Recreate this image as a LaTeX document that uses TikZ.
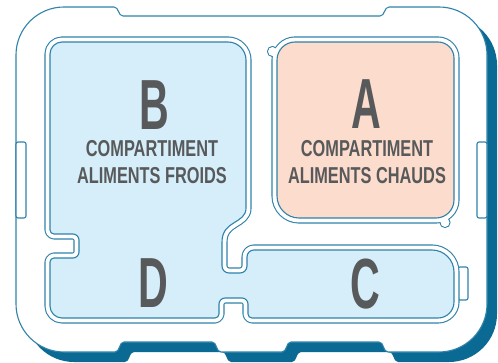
\documentclass[tikz,border=0pt]{standalone}
\usepackage{fontspec}
\newfontfamily\smallcond[FakeStretch=0.71]{Liberation Sans}
\newfontfamily\bigcond[FakeStretch=0.58]{Liberation Sans}
\definecolor{linec}{HTML}{2F82AA}
\definecolor{shadowc}{HTML}{0B6A93}
\definecolor{bluefill}{HTML}{D5EEFA}
\definecolor{pinkfill}{HTML}{FCDCCC}
\definecolor{textc}{HTML}{58595B}
\def\traypath{(16,55) .. controls (16,28.5) and (37.5,7) .. (64,7)
 -- (114,7) .. controls (119,7) and (118,16) .. (123,16)
 -- (380,16) .. controls (385,16) and (384,7) .. (389,7)
 -- (439,7) .. controls (465.5,7) and (487,28.5) .. (487,55)
 -- (487,304) .. controls (487,330.5) and (465.5,352) .. (439,352)
 -- (388,352) .. controls (383,352) and (384,342) .. (379,342)
 -- (291,342) .. controls (286,342) and (287,352) .. (282,352)
 -- (221,352) .. controls (216,352) and (217,342) .. (212,342)
 -- (124,342) .. controls (119,342) and (120,352) .. (115,352)
 -- (64,352) .. controls (37.5,352) and (16,330.5) .. (16,304)
 -- cycle}
\def\bluepath{(50,54) .. controls (50,47.4) and (55.4,42) .. (62,42)
 -- (228,42) .. controls (237.9,42) and (246,50.1) .. (246,60)
 -- (246,208) .. controls (246,224) and (222,220) .. (222,242)
 -- (222,266) .. controls (222,269.9) and (225.1,273) .. (229,273)
 -- (240,273) .. controls (243.9,273) and (247,269.9) .. (247,266)
 -- (247,257) .. controls (247,253.1) and (250.1,250) .. (254,250)
 -- (432,250) .. controls (444.1,250) and (454,259.9) .. (454,272)
 -- (454,302) .. controls (454,310.8) and (446.8,318) .. (438,318)
 -- (252,318) .. controls (249.8,318) and (248,316.2) .. (248,314)
 -- (248,304) .. controls (248,300.7) and (245.3,298) .. (242,298)
 -- (225,298) .. controls (221.7,298) and (219,300.7) .. (219,304)
 -- (219,314) .. controls (219,316.2) and (217.2,318) .. (215,318)
 -- (62,318) .. controls (55.4,318) and (50,312.6) .. (50,306)
 -- (50,262) .. controls (50,259.8) and (51.8,258) .. (54,258)
 -- (73,258) .. controls (76.3,258) and (79,255.3) .. (79,252)
 -- (79,240) .. controls (79,236.7) and (76.3,234) .. (73,234)
 -- (54,234) .. controls (51.8,234) and (50,232.2) .. (50,230)
 -- cycle}
\def\pinkpath{(277,60) .. controls (277,50.1) and (285.1,42) .. (295,42)
 -- (438,42) .. controls (446.8,42) and (454,49.2) .. (454,58)
 -- (454,200) .. controls (454,209.9) and (445.9,218) .. (436,218)
 -- (299,218) .. controls (286.9,218) and (277,208.1) .. (277,196)
 -- cycle}
\begin{document}
\begin{tikzpicture}[x=1pt,y=-1pt,
  thinline/.style={draw=linec,line width=1.1pt},
  ringouter/.style={draw=linec,line width=11.1pt,line join=round},
  ringinner/.style={draw=white,line width=8.9pt,line join=round},
  knob/.style={fill=white,draw=linec,line width=1.1pt},
  sidetab/.style={fill=white,draw=linec,line width=1.1pt,rounded corners=2pt},
  bigletter/.style={text=textc,inner sep=0pt,font=\bigcond\bfseries\fontsize{71}{71}\selectfont},
  label/.style={text=textc,inner sep=0pt,anchor=base,font=\smallcond\bfseries\fontsize{23}{23}\selectfont}]
\useasboundingbox (0,0) rectangle (498,363);
% shadow and tray
\fill[shadowc,shift={(10,10)}] \traypath;
\path[fill=white,thinline] \traypath;
\path[sidetab] (16,142) rectangle (26,218);
\path[sidetab] (477,142) rectangle (487,218);
% C side bump
\path[sidetab] (458,267) rectangle (468,300);
% knobs of A
\path[knob] (272.5,51.5) circle[radius=5];
\path[knob] (445,222.5) circle[radius=5];
% rims
\path[ringouter] \bluepath;
\path[ringinner] \bluepath;
\path[ringouter] \pinkpath;
\path[ringinner] \pinkpath;
\fill[white] (272.5,51.5) circle[radius=4.4];
\fill[white] (445,222.5) circle[radius=4.4];
% compartments
\path[fill=bluefill,thinline] \bluepath;
\path[fill=pinkfill,thinline] \pinkpath;
% texts
\node[bigletter] (lB) at (154,105) {B};
\node[label] (tB1) at (152,157) {COMPARTIMENT};
\node[label] (tB2) at (152,184) {ALIMENTS FROIDS};
\node[bigletter] (lA) at (366,104) {A};
\node[label] (tA1) at (367,157) {COMPARTIMENT};
\node[label] (tA2) at (367,184) {ALIMENTS CHAUDS};
\node[bigletter] (lD) at (153,283) {D};
\node[bigletter] (lC) at (365,284) {C};
\end{tikzpicture}
\end{document}
